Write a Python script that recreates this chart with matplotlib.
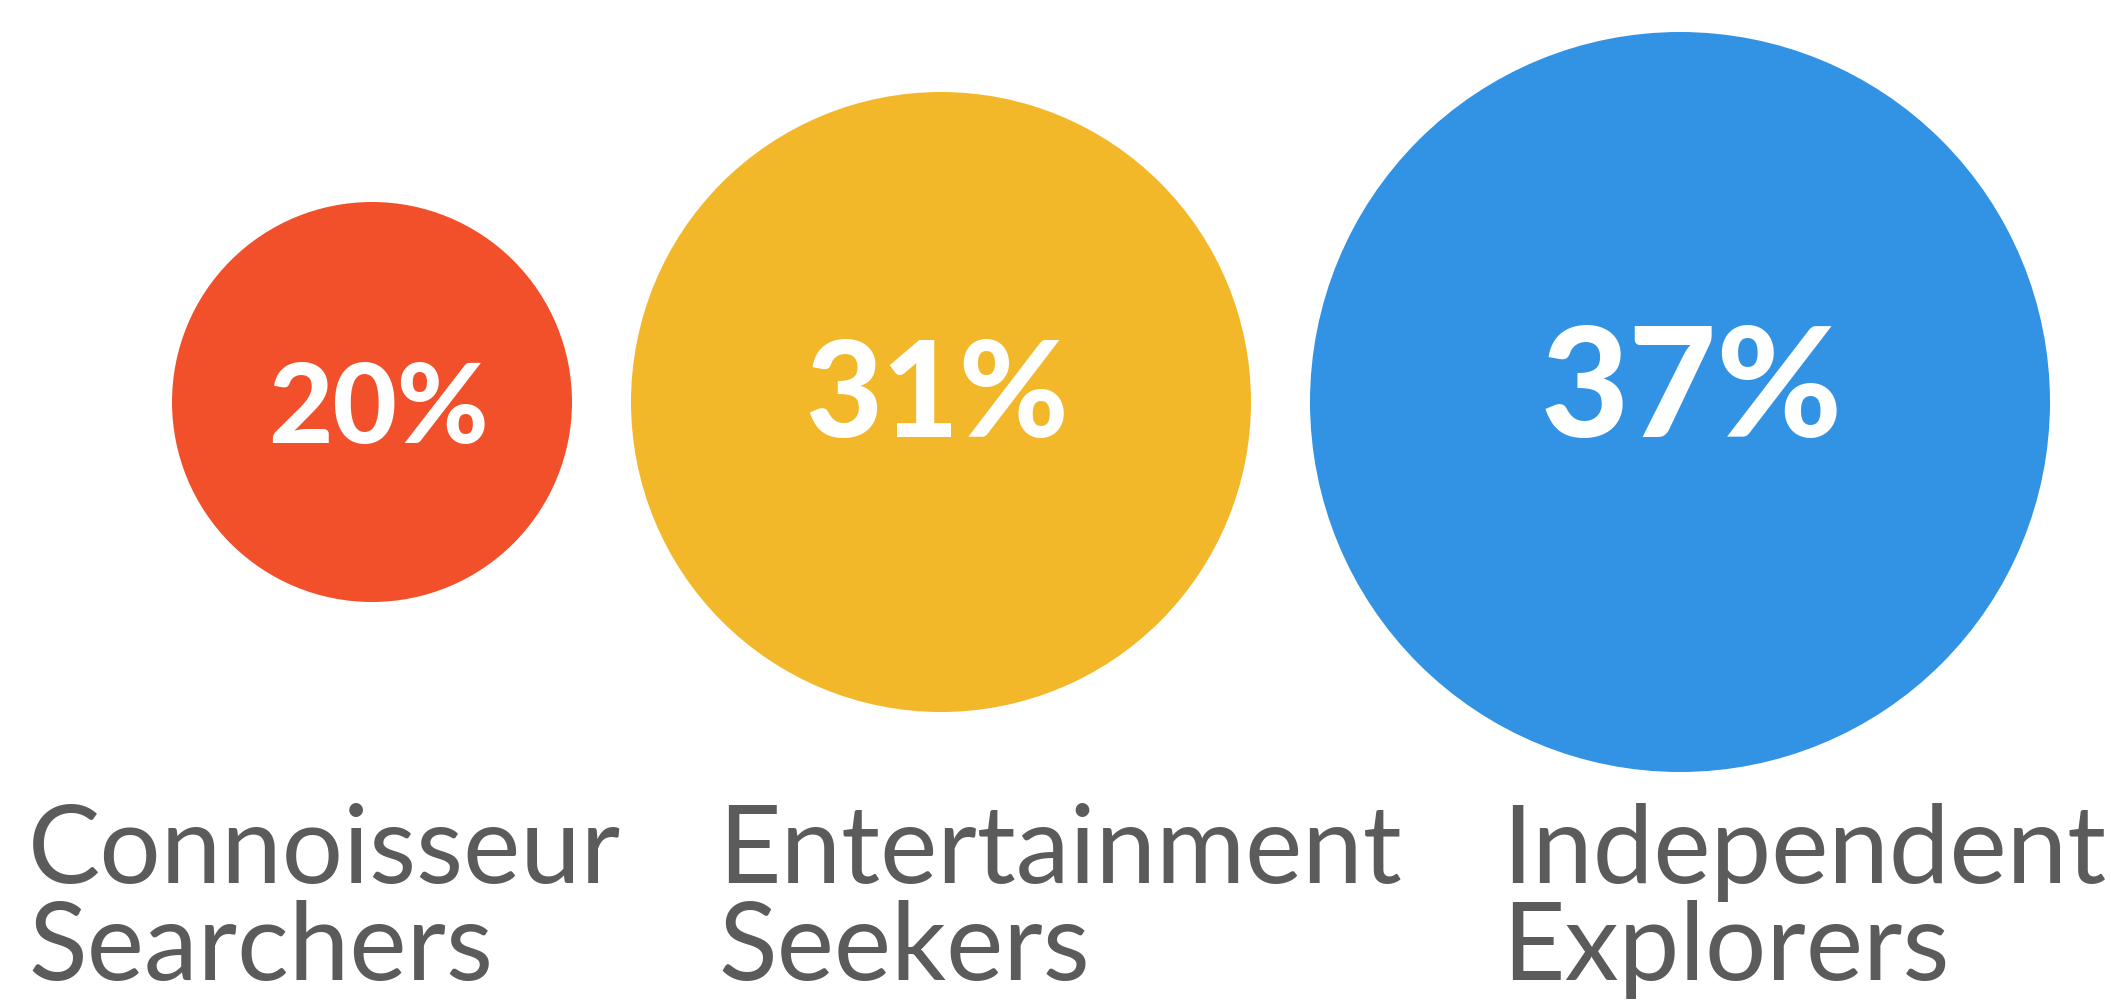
import matplotlib
matplotlib.use("Agg")
import matplotlib.pyplot as plt
from matplotlib.patches import Circle

# Segment shares (circle radius is proportional to the share)
labels = ["Connoisseur\nSearchers", "Entertainment\nSeekers", "Independent\nExplorers"]
shares = [20, 31, 37]
colors = ["#F2502B", "#F2B82A", "#3293E4"]

# Layout (data units: 1 unit = 10 px)
W, H = 211.1, 100.3
center_y = 60.0
first_x = 37.2
gap = 5.9
pct_sizes = [80, 95.5, 109.5]
pct_drop = [4.0, 3.4, 3.4]
pct_dx = [0.6, -0.4, 1.2]
label_x = [2.8, 71.8, 150.2]
label_baselines = [12.0, 2.3]

fig = plt.figure(figsize=(21.11, 10.03), dpi=100)
ax = fig.add_axes([0, 0, 1, 1])
ax.set_xlim(0, W)
ax.set_ylim(0, H)
ax.set_aspect("equal")
ax.axis("off")

# Position circles side by side with a constant gap
cx = []
x = first_x
for i, s in enumerate(shares):
    if i > 0:
        x += shares[i - 1] + gap + s
    cx.append(x)

for i, s in enumerate(shares):
    ax.add_patch(Circle((cx[i], center_y), s, facecolor=colors[i], edgecolor="none"))
    ax.text(cx[i] + pct_dx[i], center_y - pct_drop[i], f"{s}%", ha="center", va="baseline",
            color="white", fontsize=pct_sizes[i], fontweight="black", family="Lato")

for i, lab in enumerate(labels):
    for line, yb in zip(lab.split("\n"), label_baselines):
        ax.text(label_x[i], yb, line, ha="left", va="baseline",
                color="#5B5B5B", fontsize=78, family="Lato")

fig.savefig("out.png", dpi=100, facecolor="white")
